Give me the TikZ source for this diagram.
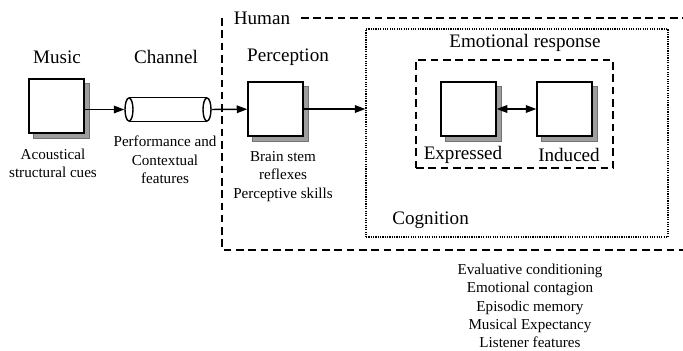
\documentclass[tikz,border=0pt]{standalone}
\usepackage{fontspec}
\setmainfont{Liberation Serif}
\usepackage{tikz}
\usetikzlibrary{positioning}
\usetikzlibrary{arrows.meta,shapes.geometric,fit,backgrounds}

\tikzset{
  blk/.style={draw, line width=1.2pt, fill=white, minimum width=1.65cm, minimum height=1.62cm, inner sep=0pt},
  blkshadow/.style={fill=black!38, draw=black!55, line width=0.4pt},
  head/.style={font=\fontsize{16.3}{19}\selectfont, inner sep=1pt},
  note/.style={font=\fontsize{12.9}{15.6}\selectfont, align=center, inner sep=0pt},
  longdash/.style={line width=1.2pt, dash pattern=on 6.5pt off 4pt},
  dotline/.style={line width=1.1pt, dash pattern=on 1pt off 1pt},
  pipe/.style={draw, ellipse, line width=1.2pt, minimum width=0.24cm, minimum height=0.69cm, inner sep=0pt},
  link/.style={line width=1.2pt},
  >={Triangle[length=9pt,width=6.5pt]}
}

\begin{document}
\begin{tikzpicture}[x=0.03cm,y=-0.03cm]
\useasboundingbox (0,0) rectangle (683,350);

% music source
\node[head] (musiclbl) at (57,57) {Music};
\node[blk] (music) at (56.5,106) {};
\node[note] (cues) at (53,163.5) {Acoustical\\structural cues};

% channel pipe
\node[head] (chanlbl) at (166,57) {Channel};
\node[pipe] (chanL) at (129,109.5) {};
\node[pipe] (chanR) at (207,109.5) {};
\draw[link] (chanL.north) -- (chanR.north);
\draw[link] (chanL.south) -- (chanR.south);
\node[note] (perf) at (165,160) {Performance and\\Contextual\\features};

% human frame
\node[head] (human) at (262,18) {Human};
\draw[longdash] ([xshift=8pt]human.east) -- (690,18);
\draw[longdash] (222,18) -- (222,250) -- (690,250);

% perception
\node[head] (perclbl) at (288,57) {Perception};
\node[blk] (perc) at (275.5,109) {};
\node[note] (reflex) at (283,176.5) {Brain stem\\reflexes\\Perceptive skills};

% cognition and emotional response
\node[dotline, draw, fit={(366,29) (668,237)}, inner sep=0pt] (cog) {};
\node[head, anchor=west] (coglbl) at (391,220) {Cognition};
\node[head] (emolbl) at (525,43) {Emotional response};
\node[longdash, draw, fit={(416,60) (613,168)}, inner sep=0pt] (emo) {};
\node[blk] (expr) at (468.5,109) {};
\node[blk] (ind) at (564.5,109) {};
\node[head] (exprlbl) at (463,155) {Expressed};
\node[head] (indlbl) at (569,155) {Induced};

\node[note] (mech) at (530,306) {Evaluative conditioning\\Emotional contagion\\Episodic memory\\Musical Expectancy\\Listener features};

% shadows behind the boxes
\begin{scope}[on background layer]
\foreach \b in {music,perc,expr,ind} {
\filldraw[blkshadow] ([shift={(4.5,4.5)}]\b.south west) rectangle ([shift={(4.5,4.5)}]\b.north east);
}
\end{scope}

% connectors
\draw[->, link] (music.east |- chanL) -- (chanL.west);
\draw[->, link] (chanR) -- (perc);
\draw[->, link] (perc) -- (perc -| cog.west);
\draw[<->, link] (expr) -- (ind);
\end{tikzpicture}
\end{document}
